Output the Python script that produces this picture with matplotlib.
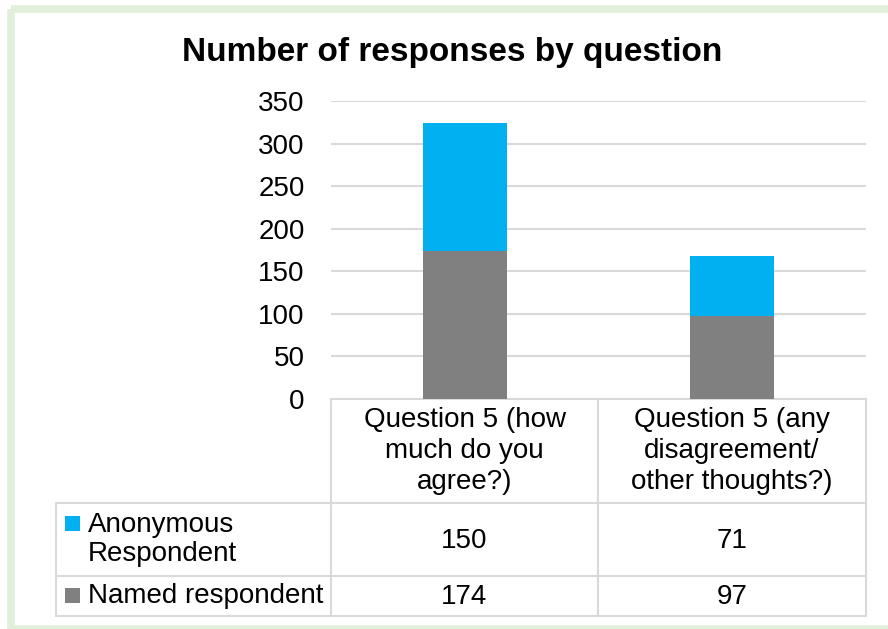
import matplotlib.pyplot as plt
from matplotlib.patches import Rectangle

# data
categories = ["Question 5 (how\nmuch do you\nagree?)",
              "Question 5 (any\ndisagreement/\nother thoughts?)"]
series_names = ["Anonymous\nRespondent", "Named respondent"]
anonymous = [150, 71]
named = [174, 97]
yticks = [0, 50, 100, 150, 200, 250, 300, 350]

blue = "#00b0f0"
grey = "#808080"
line_c = "#d9d9d9"
W, H = 888, 629

plt.rcParams['font.family'] = ['Liberation Sans', 'DejaVu Sans']

fig = plt.figure(figsize=(W / 100, H / 100), dpi=100)
fig.patch.set_facecolor("white")

# overlay in pixel coords for border / table
ov = fig.add_axes([0, 0, 1, 1])
ov.set_xlim(0, W)
ov.set_ylim(H, 0)
ov.axis("off")
ov.add_patch(Rectangle((11, 8.5), W + 20, 620, fill=False,
                       edgecolor="#e2efda", lw=5.5))

# plot area (pixels)
px_l, px_r, px_t, px_b = 331, 866, 101, 399
ax = fig.add_axes([px_l / W, 1 - px_b / H, (px_r - px_l) / W, (px_b - px_t) / H])
x = range(len(categories))
ax.bar(x, named, width=0.314, color=grey, zorder=3)
ax.bar(x, anonymous, bottom=named, width=0.314, color=blue, zorder=3)
ax.set_xlim(-0.5, len(categories) - 0.5)
ax.set_ylim(0, 350)
ax.set_yticks(yticks)
ax.set_yticklabels([str(t) for t in yticks], fontsize=20)
ax.tick_params(axis="y", length=0, pad=19)
ax.set_xticks([])
ax.grid(axis="y", color=line_c, lw=1.5, zorder=0)
for s in ax.spines.values():
    s.set_visible(False)

ax.set_title("Number of responses by question", fontsize=24, fontweight="bold",
             x=(452 - px_l) / (px_r - px_l), pad=29)

# data table
col_x = [331, 598, 866]
row_y = [399, 503, 576, 616]
tbl_l = 56
lw = 1.5
# vertical lines of category columns
for cx in col_x:
    ov.plot([cx, cx], [row_y[0], row_y[-1]], color=line_c, lw=lw)
ov.plot([tbl_l, tbl_l], [row_y[1], row_y[-1]], color=line_c, lw=lw)
ov.plot([col_x[0], col_x[-1]], [row_y[0], row_y[0]], color=line_c, lw=lw)
for ry in row_y[1:]:
    ov.plot([tbl_l, col_x[-1]], [ry, ry], color=line_c, lw=lw)

for i, cat in enumerate(categories):
    cx = (col_x[i] + col_x[i + 1]) / 2
    ov.text(cx, (row_y[0] + row_y[1]) / 2, cat, ha="center", va="center",
            fontsize=20, linespacing=1.24)
    for r, vals in enumerate([anonymous, named]):
        ov.text(cx, (row_y[r + 1] + row_y[r + 2]) / 2 + 1, str(vals[i]),
                ha="center", va="center", fontsize=20)

for r, (name, col) in enumerate(zip(series_names, [blue, grey])):
    cy = (row_y[r + 1] + row_y[r + 2]) / 2
    if r == 0:
        ov.add_patch(Rectangle((65, 516), 15, 15, color=col, lw=0))
        ov.text(88, cy, name, ha="left", va="center", fontsize=20, linespacing=1.15)
    else:
        ov.add_patch(Rectangle((65, cy - 8), 15, 15, color=col, lw=0))
        ov.text(88, cy, name, ha="left", va="center", fontsize=20)

fig.savefig("out.png", dpi=100)
